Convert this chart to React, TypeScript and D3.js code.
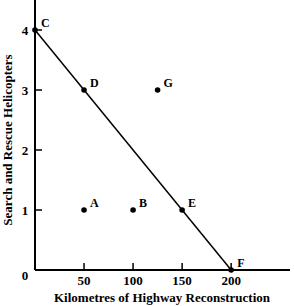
import { useEffect, useRef } from "react";
import * as d3 from "d3";

// Points on the chart
const pointNames = ["C", "D", "A", "B", "E", "F", "G"];
const kilometres = [0, 50, 50, 100, 150, 200, 125];
const helicopters = [4, 3, 1, 1, 1, 0, 3];

// Line joining C and F
const lineNames = ["C", "F"];

const xTicks = [50, 100, 150, 200];
const yTicks = [1, 2, 3, 4];

export default function App() {
    const svgRef = useRef<SVGSVGElement | null>(null);

    useEffect(() => {
        if (!svgRef.current) return;
        const svg = d3.select(svgRef.current);
        svg.selectAll("*").remove();

        const font = "'Liberation Serif', 'Times New Roman', serif";
        const x = d3.scaleLinear().domain([0, 260]).range([35, 290]);
        const y = d3.scaleLinear().domain([0, 4.5]).range([270, 0]);

        const pts = pointNames.map((n, i) => ({ name: n, km: kilometres[i], h: helicopters[i] }));

        // axes
        svg.append("line")
            .attr("x1", x(0)).attr("x2", x(0))
            .attr("y1", y(4.5)).attr("y2", y(0))
            .attr("stroke", "#000").attr("stroke-width", 2);
        svg.append("line")
            .attr("x1", x(0)).attr("x2", x(260))
            .attr("y1", y(0)).attr("y2", y(0))
            .attr("stroke", "#000").attr("stroke-width", 2);

        // ticks
        svg.selectAll(".yt").data(yTicks).enter().append("line")
            .attr("x1", x(0)).attr("x2", x(0) + 7)
            .attr("y1", d => y(d)).attr("y2", d => y(d))
            .attr("stroke", "#000").attr("stroke-width", 1.5);
        svg.selectAll(".xt").data(xTicks).enter().append("line")
            .attr("x1", d => x(d)).attr("x2", d => x(d))
            .attr("y1", y(0)).attr("y2", y(0) - 7)
            .attr("stroke", "#000").attr("stroke-width", 1.5);

        // tick labels
        svg.selectAll(".yl").data(yTicks).enter().append("text")
            .attr("x", 25).attr("y", d => y(d) + 5)
            .attr("text-anchor", "middle")
            .attr("font-family", font).attr("font-weight", "bold").attr("font-size", 13)
            .text(d => d);
        svg.append("text")
            .attr("x", 25).attr("y", y(0) + 10)
            .attr("text-anchor", "middle")
            .attr("font-family", font).attr("font-weight", "bold").attr("font-size", 13)
            .text("0");
        svg.selectAll(".xl").data(xTicks).enter().append("text")
            .attr("x", d => x(d)).attr("y", y(0) + 15)
            .attr("text-anchor", "middle")
            .attr("font-family", font).attr("font-weight", "bold").attr("font-size", 13)
            .text(d => d);

        // axis titles
        svg.append("text")
            .attr("x", 162).attr("y", 302)
            .attr("text-anchor", "middle")
            .attr("font-family", font).attr("font-weight", "bold").attr("font-size", 13)
            .text("Kilometres of Highway Reconstruction");
        svg.append("text")
            .attr("transform", "translate(12,140) rotate(-90)")
            .attr("text-anchor", "middle")
            .attr("font-family", font).attr("font-weight", "bold").attr("font-size", 13)
            .text("Search and Rescue Helicopters");

        // line C-F
        const linePts = pts.filter(p => lineNames.includes(p.name));
        const line = d3.line<typeof pts[0]>().x(d => x(d.km)).y(d => y(d.h));
        svg.append("path")
            .datum(linePts)
            .attr("fill", "none")
            .attr("stroke", "#000")
            .attr("stroke-width", 1.5)
            .attr("d", line);

        // dots
        svg.selectAll(".dot").data(pts).enter().append("circle")
            .attr("cx", d => x(d.km)).attr("cy", d => y(d.h))
            .attr("r", 2.8).attr("fill", "#000");

        // labels
        svg.selectAll(".lbl").data(pts).enter().append("text")
            .attr("x", d => x(d.km) + 6).attr("y", d => y(d.h) - 3)
            .attr("font-family", font).attr("font-weight", "bold").attr("font-size", 12)
            .text(d => d.name);
    }, []);

    return (
        <svg ref={svgRef} width={294} height={306}
            style={{ position: "absolute", left: 0, top: 0, background: "#fff" }} />
    );
}
